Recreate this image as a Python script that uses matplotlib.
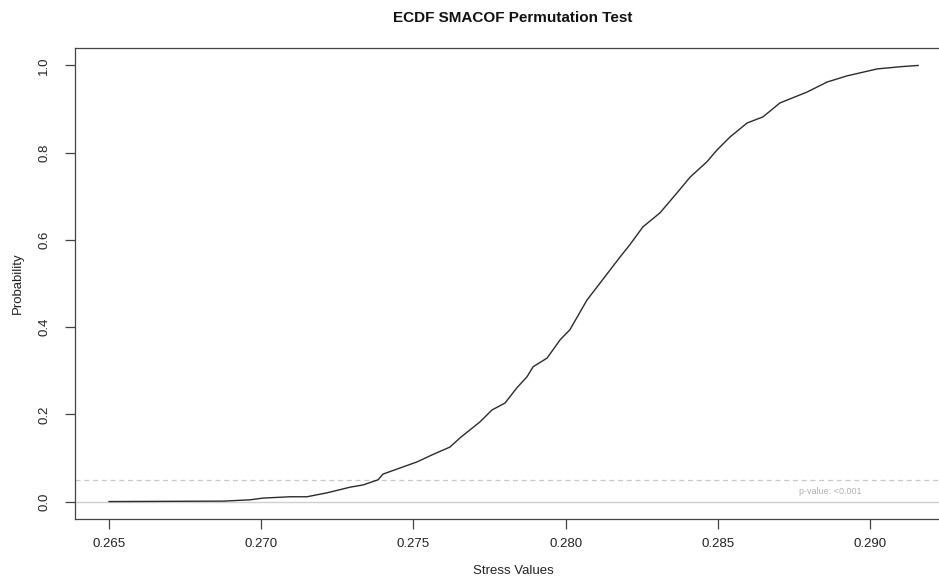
import matplotlib
matplotlib.use("Agg")
import matplotlib.pyplot as plt

plt.rcParams['font.family'] = ['Liberation Sans', 'DejaVu Sans']

# points
stress = [0.2650, 0.26875, 0.26963, 0.27006, 0.27095, 0.27150, 0.27216, 0.27292,
          0.27334, 0.27384, 0.27400, 0.27456, 0.27512, 0.27561, 0.27620, 0.27653,
          0.27719, 0.27758, 0.27801, 0.27840, 0.27873, 0.27893, 0.27939, 0.27982,
          0.28014, 0.28070, 0.28113, 0.28179, 0.28211, 0.28254, 0.28310, 0.28366,
          0.28409, 0.28464, 0.28497, 0.28540, 0.28596, 0.28648, 0.28704, 0.28793,
          0.28859, 0.28924, 0.29023, 0.29098, 0.29158]
prob = [0.000, 0.001, 0.004, 0.008, 0.011, 0.011, 0.020, 0.033,
        0.038, 0.050, 0.063, 0.077, 0.091, 0.107, 0.125, 0.146,
        0.183, 0.210, 0.226, 0.261, 0.286, 0.309, 0.329, 0.371,
        0.394, 0.462, 0.501, 0.561, 0.589, 0.630, 0.662, 0.708,
        0.744, 0.779, 0.806, 0.836, 0.868, 0.882, 0.914, 0.939,
        0.962, 0.976, 0.992, 0.997, 1.000]

xticks = [0.265, 0.270, 0.275, 0.280, 0.285, 0.290]
yticks = [0.0, 0.2, 0.4, 0.6, 0.8, 1.0]
alpha = 0.05

fig = plt.figure(figsize=(9.39, 5.77), dpi=100)
ax = fig.add_axes([0.0799, 0.1005, 0.9329, 0.8163])

ax.axhline(0, color='#cfcfcf', lw=1.0, zorder=1)
ax.axhline(alpha, color='#c8c8c8', lw=0.9, ls=(0, (4, 3)), zorder=1)
ax.plot(stress, prob, color='#2b2b2b', lw=1.0, zorder=3)
ax.text(0.2887, 0.022, 'p-value: <0.001', fontsize=6.5, color='#b0b0b0',
        ha='center', va='center')

ax.set_xlim(0.263883, 0.29266)
ax.set_ylim(-0.04, 1.04)
ax.set_xticks(xticks)
ax.set_xticklabels(['%.3f' % t for t in xticks])
ax.set_yticks(yticks)
ax.set_yticklabels(['%.1f' % t for t in yticks], rotation=90, va='center')
ax.tick_params(axis='both', direction='out', length=7, width=0.9,
               color='#444444', labelsize=9.5, labelcolor='#222222')
ax.tick_params(axis='x', pad=7)
ax.tick_params(axis='y', pad=11)
for s in ax.spines.values():
    s.set_color('#444444')
    s.set_linewidth(0.9)

ax.set_xlabel('Stress Values', fontsize=9.5, labelpad=10.5, color='#222222')
ax.set_ylabel('Probability', fontsize=9.5, labelpad=10, color='#222222')
fig.text(0.5458, 0.968, 'ECDF SMACOF Permutation Test', fontsize=11,
         fontweight='bold', ha='center', va='center', color='#111111')

fig.savefig('out.png', dpi=100)
